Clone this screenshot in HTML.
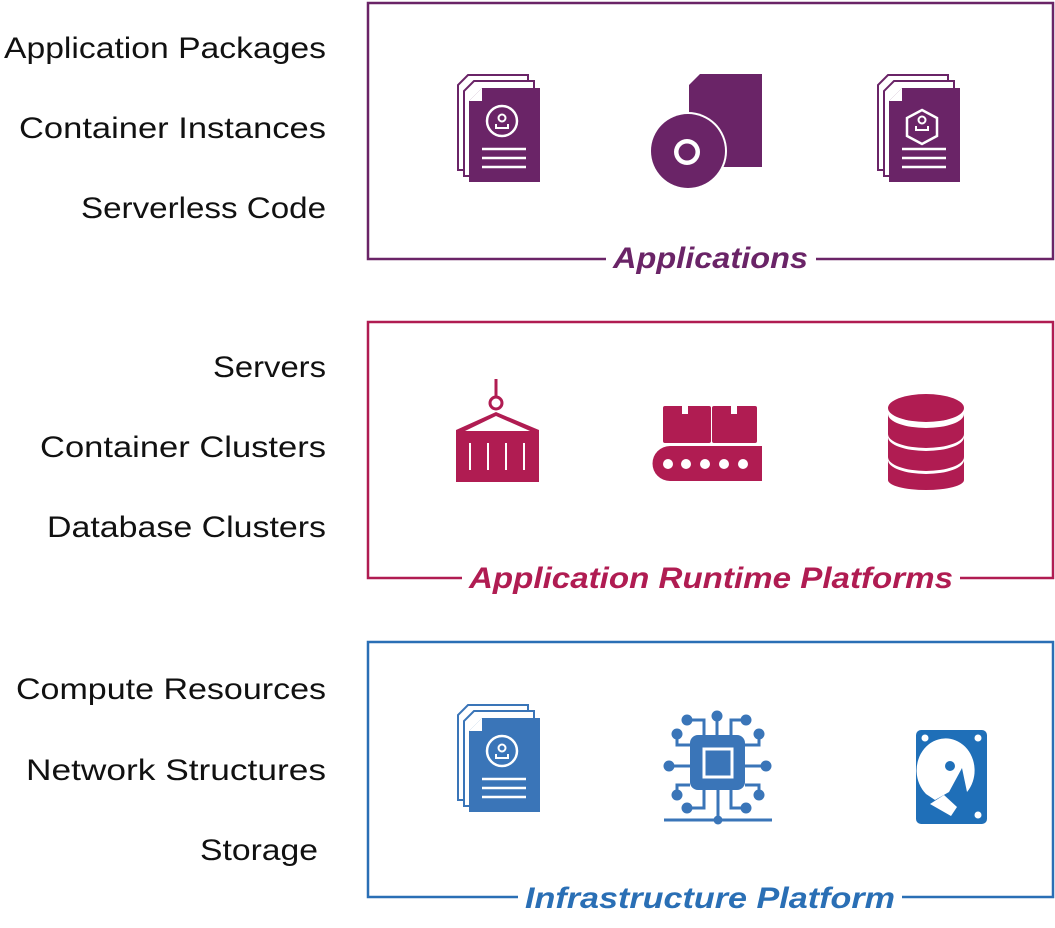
<!DOCTYPE html>
<html><head><style>body{margin:0;background:#fff}svg{display:block}</style></head><body>
<svg width="1055" height="928" viewBox="0 0 1055 928" xmlns="http://www.w3.org/2000/svg" font-family="Liberation Sans, sans-serif">
<defs>
<g id="docs">
  <path d="M468,75 L528,75 L528,170 L458,170 L458,85 Z" fill="#fff" stroke="currentColor" stroke-width="2"/>
  <path d="M474,81 L534,81 L534,176 L464,176 L464,91 Z" fill="#fff" stroke="currentColor" stroke-width="2"/>
  <path d="M482,88 L540,88 L540,182 L469,182 L469,101 Z" fill="currentColor"/>
  <path d="M469,101 L482,88 L482,101 Z" fill="#fff"/>
  <line x1="482" y1="149" x2="526" y2="149" stroke="#fff" stroke-width="2.5"/>
  <line x1="482" y1="158" x2="526" y2="158" stroke="#fff" stroke-width="2.5"/>
  <line x1="482" y1="167" x2="526" y2="167" stroke="#fff" stroke-width="2.5"/>
</g>
</defs>
<g fill="none" stroke-width="2.5">
<rect x="368" y="3" width="685" height="256" stroke="#6a2467"/>
<rect x="368" y="322" width="685" height="256" stroke="#b01c52"/>
<rect x="368" y="642" width="685" height="255" stroke="#2a6fb5"/>
</g>
<g font-size="30" fill="#111" text-anchor="end">
<text x="326" y="58" textLength="322" lengthAdjust="spacingAndGlyphs">Application Packages</text>
<text x="326" y="138" textLength="307" lengthAdjust="spacingAndGlyphs">Container Instances</text>
<text x="326" y="218" textLength="245" lengthAdjust="spacingAndGlyphs">Serverless Code</text>
<text x="326" y="377" textLength="113" lengthAdjust="spacingAndGlyphs">Servers</text>
<text x="326" y="457" textLength="286" lengthAdjust="spacingAndGlyphs">Container Clusters</text>
<text x="326" y="537" textLength="279" lengthAdjust="spacingAndGlyphs">Database Clusters</text>
<text x="326" y="699" textLength="310" lengthAdjust="spacingAndGlyphs">Compute Resources</text>
<text x="326" y="780" textLength="300" lengthAdjust="spacingAndGlyphs">Network Structures</text>
<text x="318" y="860" textLength="118" lengthAdjust="spacingAndGlyphs">Storage</text>
</g>
<g font-size="30" font-weight="bold" font-style="italic">
<rect x="606" y="245" width="210" height="28" fill="#fff"/>
<text x="613" y="268" fill="#6a2467" textLength="195" lengthAdjust="spacingAndGlyphs">Applications</text>
<rect x="462" y="565" width="498" height="28" fill="#fff"/>
<text x="469" y="588" fill="#b01c52" textLength="484" lengthAdjust="spacingAndGlyphs">Application Runtime Platforms</text>
<rect x="518" y="884" width="384" height="28" fill="#fff"/>
<text x="525" y="908" fill="#2a6fb5" textLength="370" lengthAdjust="spacingAndGlyphs">Infrastructure Platform</text>
</g>
<!-- Applications icons -->
<g color="#6a2467">
<use href="#docs"/>
<circle cx="502" cy="121" r="15" fill="none" stroke="#fff" stroke-width="2.5"/>
<circle cx="502" cy="118" r="3.5" fill="none" stroke="#fff" stroke-width="2"/>
<path d="M496,124 v4 h12 v-4" fill="none" stroke="#fff" stroke-width="2"/>
<use href="#docs" x="420"/>
<path d="M922,110 L937,118 L937,136 L922,144 L907,136 L907,118 Z" fill="none" stroke="#fff" stroke-width="2.5"/>
<circle cx="922" cy="120" r="3.5" fill="none" stroke="#fff" stroke-width="2"/>
<path d="M916,126 v4 h12 v-4" fill="none" stroke="#fff" stroke-width="2"/>
<path d="M700,74 L762,74 L762,167 L689,167 L689,85 Z" fill="#6a2467"/>
<circle cx="688" cy="151" r="39" fill="#fff"/>
<circle cx="688" cy="151" r="37" fill="#6a2467"/>
<circle cx="687" cy="152" r="13" fill="#fff"/>
<circle cx="687" cy="152" r="8.5" fill="#6a2467"/>
</g>
<!-- Runtime icons -->
<g fill="#b01c52">
<line x1="496" y1="379" x2="496" y2="397" stroke="#b01c52" stroke-width="3"/>
<circle cx="496" cy="403" r="6" fill="none" stroke="#b01c52" stroke-width="3"/>
<path d="M456,430 L496,412 L539,430 L539,482 L456,482 Z"/>
<path d="M465,431 L496,416 L530,431 Z" fill="#fff"/>
<g stroke="#fff" stroke-width="2"><line x1="470" y1="443" x2="470" y2="470"/><line x1="488" y1="443" x2="488" y2="470"/><line x1="506" y1="443" x2="506" y2="470"/><line x1="524" y1="443" x2="524" y2="470"/></g>
<rect x="663" y="406" width="48" height="37" rx="2"/>
<rect x="712" y="406" width="45" height="37" rx="2"/>
<rect x="682" y="406" width="6" height="8" fill="#fff"/>
<rect x="731" y="406" width="6" height="8" fill="#fff"/>
<path d="M670,446 L762,446 L762,481 L670,481 A17.5,17.5 0 0 1 670,446 Z"/>
<g fill="#fff"><circle cx="668" cy="464" r="5"/><circle cx="686" cy="464" r="5"/><circle cx="705" cy="464" r="5"/><circle cx="724" cy="464" r="5"/><circle cx="743" cy="464" r="5"/></g>
<ellipse cx="926" cy="408" rx="38" ry="14"/>
<path d="M888,414 v20 a38,14 0 0 0 76,0 v-20 a38,14 0 0 1 -76,0 Z"/>
<path d="M888,437 v20 a38,14 0 0 0 76,0 v-20 a38,14 0 0 1 -76,0 Z"/>
<path d="M888,460 v20 a38,10 0 0 0 76,0 v-20 a38,14 0 0 1 -76,0 Z"/>
</g>
<!-- Infrastructure icons -->
<g color="#3a75b8">
<use href="#docs" y="630" x="0"/>
<circle cx="502" cy="751" r="15" fill="none" stroke="#fff" stroke-width="2.5"/>
<circle cx="502" cy="748" r="3.5" fill="none" stroke="#fff" stroke-width="2"/>
<path d="M496,754 v4 h12 v-4" fill="none" stroke="#fff" stroke-width="2"/>
</g>
<!-- chip -->
<g stroke="#3a75b8" stroke-width="3" fill="none">
<path d="M687,720 h17 v15"/>
<path d="M717,716 v19"/>
<path d="M746,720 h-15 v15"/>
<path d="M677,734 v11 h13"/>
<path d="M669,766 h21"/>
<path d="M677,795 v-10 h13"/>
<path d="M759,734 v11 h-14"/>
<path d="M766,766 h-21"/>
<path d="M759,795 v-10 h-14"/>
<path d="M687,808 h17 v-18"/>
<path d="M746,808 h-15 v-18"/>
<path d="M718,790 v30"/>
<path d="M664,820 h108"/>
</g>
<g fill="#3a75b8">
<circle cx="687" cy="720" r="5.5"/><circle cx="717" cy="716" r="5.5"/><circle cx="746" cy="720" r="5.5"/>
<circle cx="677" cy="734" r="5.5"/><circle cx="669" cy="766" r="5.5"/><circle cx="677" cy="795" r="5.5"/>
<circle cx="759" cy="734" r="5.5"/><circle cx="766" cy="766" r="5.5"/><circle cx="759" cy="795" r="5.5"/>
<circle cx="687" cy="808" r="5.5"/><circle cx="746" cy="808" r="5.5"/><circle cx="718" cy="820" r="4.5"/>
<rect x="690" y="735" width="55" height="55" rx="8"/>
</g>
<rect x="704" y="749" width="28" height="28" fill="#3a75b8" stroke="#fff" stroke-width="3"/>
<rect x="916" y="730" width="71" height="94" rx="5" fill="#1f6fb8"/>
<g fill="#fff"><circle cx="925" cy="738" r="3.5"/><circle cx="978" cy="738" r="3.5"/><circle cx="978" cy="815" r="3.5"/></g>
<path d="M926,794 A29,32 0 1 1 967,792 L962,768 L949,792 L935,800 Z" fill="#fff"/>
<circle cx="950" cy="766" r="5" fill="#1f6fb8"/>
<path d="M930,804 L944,795 L957,807 L951,816 Z" fill="#fff"/>
</svg>
</body></html>
